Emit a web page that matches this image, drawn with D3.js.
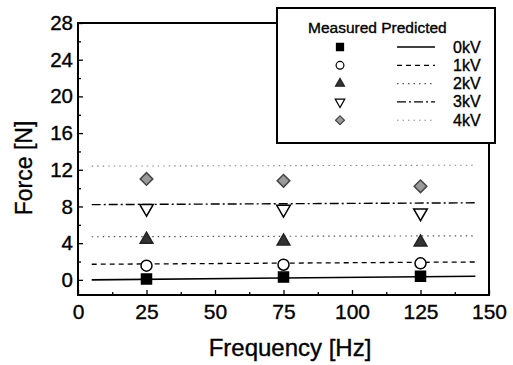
<!DOCTYPE html>
<html>
<head>
<meta charset="utf-8">
<script src="https://cdn.jsdelivr.net/npm/d3@7"></script>
<style>
  body { margin: 0; background: #fff; }
  svg { display: block; font-family: "Liberation Sans", Arial, sans-serif; }
  svg text { stroke: #000; stroke-width: 0.35px; }
</style>
</head>
<body>
<div id="chart"></div>
<script>
// ===== Data =====
const freqs = [25, 75, 125];
const predFreqs = [5, 145];
const voltages = ["0kV", "1kV", "2kV", "3kV", "4kV"];

const measured0kV = [0.1, 0.3, 0.4];
const measured1kV = [1.55, 1.65, 1.8];
const measured2kV = [4.4, 4.2, 4.1];
const measured3kV = [7.8, 7.7, 7.3];
const measured4kV = [11.0, 10.8, 10.2];

const predicted0kV = [0.0, 0.4];
const predicted1kV = [1.7, 1.95];
const predicted2kV = [4.7, 4.8];
const predicted3kV = [8.2, 8.4];
const predicted4kV = [12.4, 12.5];

const yTicks = [0, 4, 8, 12, 16, 20, 24, 28];
const xTicks = [0, 25, 50, 75, 100, 125, 150];

const measured = [measured0kV, measured1kV, measured2kV, measured3kV, measured4kV];
const predicted = [predicted0kV, predicted1kV, predicted2kV, predicted3kV, predicted4kV];

// ===== Styles par série =====
const markers = [
  { type: d3.symbolSquare, size: 100, fill: "#000", stroke: "#000", rot: 0 },
  { type: d3.symbolCircle, size: 95, fill: "#fff", stroke: "#000", rot: 0 },
  { type: d3.symbolTriangle, size: 70, fill: "#333", stroke: "#222", rot: 0 },
  { type: d3.symbolTriangle, size: 80, fill: "#fff", stroke: "#000", rot: 180 },
  { type: d3.symbolSquare, size: 80, fill: "#9a9a9a", stroke: "#444", rot: 45 }
];
const lineStyles = [
  { dash: null, color: "#000", w: 1.6 },
  { dash: "5,4", color: "#000", w: 1.3 },
  { dash: "1.5,4", color: "#555", w: 1.2 },
  { dash: "9,3,2,3", color: "#000", w: 1.4 },
  { dash: "1.5,4", color: "#888", w: 1.1 }
];

const W = 513, H = 365;
const svg = d3.select("#chart").append("svg").attr("width", W).attr("height", H);

const x = d3.scaleLinear().domain([0, 150]).range([78, 489]);
const y = d3.scaleLinear().domain([-1.65, 28]).range([295, 23]);

// ===== Axes =====
const yAxis = svg.append("g")
  .attr("transform", `translate(${x.range()[0]},0)`)
  .call(d3.axisLeft(y).tickValues(yTicks).tickSizeInner(-5).tickSizeOuter(0).tickPadding(5));
svg.append("g")
  .attr("transform", `translate(${x.range()[0]},0)`)
  .call(d3.axisLeft(y).tickValues(d3.range(2, 28, 4)).tickSizeInner(-3).tickSizeOuter(0).tickFormat(""));

const xAxis = svg.append("g")
  .attr("transform", `translate(0,${y.range()[0]})`)
  .call(d3.axisBottom(x).tickValues(xTicks).tickSizeInner(-5).tickSizeOuter(0).tickPadding(9));
svg.append("g")
  .attr("transform", `translate(0,${y.range()[0]})`)
  .call(d3.axisBottom(x).tickValues(d3.range(12.5, 150, 25)).tickSizeInner(-3).tickSizeOuter(0).tickFormat(""));

svg.selectAll(".domain").remove();
svg.selectAll(".tick line").attr("stroke", "#000").attr("stroke-width", 1.3);
yAxis.selectAll("text").attr("font-size", 20.5).attr("fill", "#000");
xAxis.selectAll("text").attr("font-size", 21).attr("fill", "#000");

// cadre
svg.append("rect")
  .attr("x", x(0)).attr("y", y(28))
  .attr("width", x(150) - x(0)).attr("height", y(-1.65) - y(28))
  .attr("fill", "none").attr("stroke", "#000").attr("stroke-width", 2);

// ===== Titres =====
svg.append("text")
  .attr("x", 290).attr("y", 356)
  .attr("text-anchor", "middle").attr("font-size", 24)
  .text("Frequency [Hz]");
svg.append("text")
  .attr("transform", "translate(32,168) rotate(-90)")
  .attr("text-anchor", "middle").attr("font-size", 23)
  .text("Force [N]");

// ===== Lignes prédites =====
const line = d3.line().x((d) => x(d[0])).y((d) => y(d[1]));
predicted.forEach((vals, i) => {
  const st = lineStyles[i];
  svg.append("path")
    .datum(predFreqs.map((f, j) => [f, vals[j]]))
    .attr("fill", "none")
    .attr("stroke", st.color)
    .attr("stroke-width", st.w)
    .attr("stroke-dasharray", st.dash)
    .attr("d", line);
});

// ===== Points mesurés =====
measured.forEach((vals, i) => {
  const m = markers[i];
  svg.append("g").selectAll("path")
    .data(vals)
    .enter()
    .append("path")
    .attr("d", d3.symbol().type(m.type).size(m.size))
    .attr("transform", (d, j) => `translate(${x(freqs[j])},${y(d)}) rotate(${m.rot})`)
    .attr("fill", m.fill)
    .attr("stroke", m.stroke)
    .attr("stroke-width", 1.5);
});

// ===== Légende =====
const leg = svg.append("g");
leg.append("rect")
  .attr("x", 277).attr("y", 8).attr("width", 218).attr("height", 135)
  .attr("fill", "#fff").attr("stroke", "#000").attr("stroke-width", 2);
leg.append("text")
  .attr("x", 308).attr("y", 33).attr("font-size", 15.5)
  .text("Measured Predicted");

voltages.forEach((v, i) => {
  const cy = 47 + i * 18.3;
  const m = markers[i];
  const st = lineStyles[i];
  leg.append("path")
    .attr("d", d3.symbol().type(m.type).size(m.size * 0.5))
    .attr("transform", `translate(340,${cy}) rotate(${m.rot})`)
    .attr("fill", m.fill)
    .attr("stroke", m.stroke)
    .attr("stroke-width", 1.2);
  leg.append("line")
    .attr("x1", 397).attr("x2", 435).attr("y1", cy).attr("y2", cy)
    .attr("stroke", st.color)
    .attr("stroke-width", st.w)
    .attr("stroke-dasharray", st.dash);
  leg.append("text")
    .attr("x", 453).attr("y", cy + 5.5).attr("font-size", 16)
    .text(v);
});
</script>
</body>
</html>
